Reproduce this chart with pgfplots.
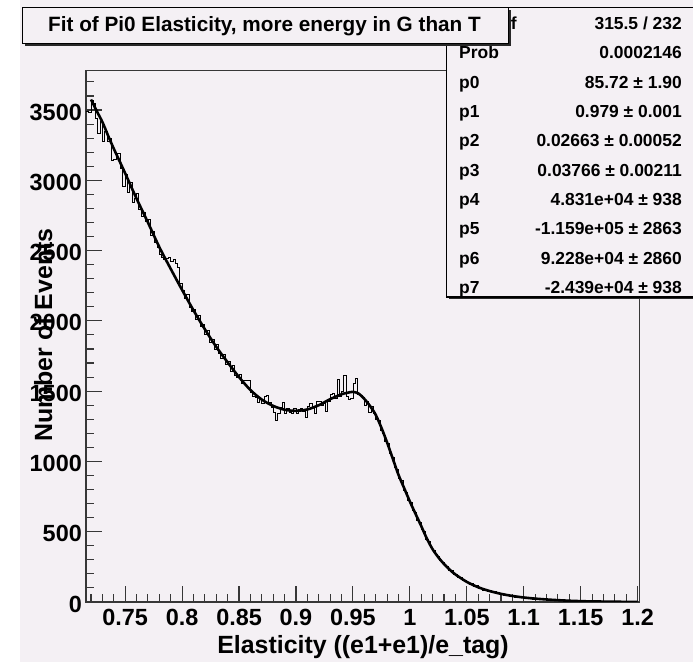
\documentclass[border=0pt]{standalone}
\usepackage{pgfplots}
\pgfplotsset{compat=1.18}
\usepackage{fontspec}
\setmainfont{Liberation Sans}
\definecolor{bg}{RGB}{244,240,244}
\definecolor{fr}{RGB}{55,55,55}
\definecolor{shd}{RGB}{40,40,40}
\pgfplotstableread{
x y
0.716 3488
0.718 3482
0.720 3570
0.722 3545
0.724 3440
0.726 3335
0.728 3420
0.730 3280
0.732 3350
0.734 3275
0.736 3300
0.738 3145
0.740 3150
0.742 3195
0.744 3190
0.746 3085
0.748 2955
0.750 3040
0.752 2915
0.754 2985
0.756 2840
0.758 2870
0.760 2905
0.762 2790
0.764 2745
0.766 2770
0.768 2705
0.770 2720
0.772 2610
0.774 2640
0.776 2555
0.778 2520
0.780 2470
0.782 2455
0.784 2440
0.786 2445
0.788 2450
0.790 2420
0.792 2440
0.794 2410
0.796 2380
0.798 2270
0.800 2215
0.802 2160
0.804 2185
0.806 2095
0.808 2070
0.810 2080
0.812 2010
0.814 2040
0.816 1960
0.818 1975
0.820 1905
0.822 1930
0.824 1850
0.826 1870
0.828 1800
0.830 1830
0.832 1770
0.834 1735
0.836 1765
0.838 1690
0.840 1710
0.842 1640
0.844 1680
0.846 1615
0.848 1595
0.850 1620
0.852 1555
0.854 1575
0.856 1580
0.858 1575
0.860 1490
0.862 1465
0.864 1455
0.866 1420
0.868 1440
0.870 1415
0.872 1460
0.874 1470
0.876 1420
0.878 1385
0.880 1350
0.882 1295
0.884 1340
0.886 1385
0.888 1420
0.890 1345
0.892 1380
0.894 1350
0.896 1340
0.898 1375
0.900 1345
0.902 1370
0.904 1380
0.906 1355
0.908 1310
0.910 1390
0.912 1412
0.914 1395
0.916 1345
0.918 1425
0.920 1428
0.922 1400
0.924 1415
0.926 1355
0.928 1430
0.930 1480
0.932 1485
0.934 1450
0.936 1586
0.938 1465
0.940 1500
0.942 1614
0.944 1460
0.946 1440
0.948 1450
0.950 1555
0.952 1593
0.954 1480
0.956 1470
0.958 1455
0.960 1400
0.962 1430
0.964 1350
0.966 1395
0.968 1345
0.970 1300
0.972 1290
0.974 1220
0.976 1200
0.978 1140
0.980 1125
0.982 1060
0.984 1030
0.986 955
0.988 940
0.990 880
0.992 865
0.994 795
0.996 780
0.998 720
1.000 710
1.002 650
1.004 640
1.006 580
1.008 565
1.010 515
1.012 500
1.014 445
1.016 430
1.018 385
1.020 368
1.022 338
1.024 325
1.026 295
1.028 285
1.030 258
1.032 250
1.034 228
1.036 222
1.038 198
1.040 198
1.042 175
1.044 175
1.046 152
1.048 155
1.050 140
1.052 125
1.054 130
1.056 112
1.058 115
1.060 98
1.062 100
1.064 85
1.066 92
1.068 78
1.070 80
1.072 68
1.074 72
1.076 58
1.078 62
1.080 55
1.082 50
1.084 54
1.086 45
1.088 42
1.090 45
1.092 36
1.094 40
1.096 33
1.098 30
1.100 33
1.102 27
1.104 26
1.106 29
1.108 22
1.110 24
1.112 19
1.114 22
1.116 17
1.118 18
1.120 16
1.122 18
1.124 13
1.126 15
1.128 12
1.130 11
1.132 13
1.134 10
1.136 8
1.138 9
1.140 7
1.142 8
1.144 6
1.146 5
1.148 7
1.150 5
1.152 4
1.154 6
1.156 3
1.158 4
1.160 3
1.162 4
1.164 2
1.166 3
1.168 3
1.170 2
1.172 3
1.174 2
1.176 1
1.178 2
1.180 2
1.182 1
1.184 1
1.186 2
1.188 1
1.190 1
1.192 0
1.194 1
1.196 1
1.198 0
1.200 0
}\histdata
\pgfplotstableread{
x y
0.720 3575
0.725 3493
0.730 3415
0.735 3318
0.740 3225
0.745 3138
0.750 3050
0.760 2870
0.770 2700
0.780 2525
0.790 2370
0.800 2220
0.810 2075
0.820 1940
0.830 1815
0.840 1705
0.850 1600
0.860 1508
0.870 1440
0.880 1395
0.890 1368
0.900 1360
0.910 1370
0.920 1400
0.930 1443
0.940 1478
0.945 1488
0.950 1495
0.955 1483
0.960 1445
0.965 1395
0.970 1332
0.975 1240
0.980 1135
0.985 1020
0.990 905
0.995 810
1.000 715
1.005 627
1.010 540
1.015 450
1.020 375
1.025 318
1.030 270
1.035 230
1.040 196
1.050 143
1.060 105
1.070 78
1.080 58
1.090 43
1.100 32
1.110 24
1.120 18
1.130 13
1.140 9
1.150 6
1.160 4
1.170 3
1.180 2
1.190 1
1.200 0.5
}\fitdata
\begin{document}
\begin{tikzpicture}[x=1bp,y=1bp]
\clip (0,0) rectangle (693,662);
\fill[white] (0,0) rectangle (693,662);
\fill[bg] (20,0) rectangle (693,662);
\begin{axis}[
  at={(86bp,60bp)}, anchor=south west, scale only axis,
  width=553.3bp, height=531.3bp,
  xmin=0.7156, xmax=1.2015, ymin=0, ymax=3780,
  axis background/.style={fill=bg},
  axis line style={fr, line width=1.1bp},
  xtick={0.75,0.8,0.85,0.9,0.95,1,1.05,1.1,1.15,1.2},
  xticklabels={0.75,0.8,0.85,0.9,0.95,1,1.05,1.1,1.15,1.2},
  minor xtick={0.72,0.73,0.74,0.76,0.77,0.78,0.79,0.81,0.82,0.83,0.84,0.86,0.87,0.88,0.89,0.91,0.92,0.93,0.94,0.96,0.97,0.98,0.99,1.01,1.02,1.03,1.04,1.06,1.07,1.08,1.09,1.11,1.12,1.13,1.14,1.16,1.17,1.18,1.19},
  ytick={0,500,1000,1500,2000,2500,3000,3500},
  yticklabels={0,500,1000,1500,2000,2500,3000,3500},
  minor ytick={100,200,300,400,600,700,800,900,1100,1200,1300,1400,1600,1700,1800,1900,2100,2200,2300,2400,2600,2700,2800,2900,3100,3200,3300,3400,3600,3700},
  scaled ticks=false,
  xtick pos=bottom, ytick pos=left,
  tick align=inside,
  major tick length=16bp, minor tick length=8bp,
  every tick/.style={fr, line width=1.1bp},
  ticklabel style={font=\fontsize{23.5}{24}\selectfont\bfseries, inner sep=0pt},
  xticklabel style={anchor=north, yshift=-7bp},
  yticklabel style={anchor=east, xshift=-4bp, yshift=-2bp},
]
\addplot[const plot mark left, black, line width=0.8bp, mark=none] table[x=x,y=y] {\histdata};
\addplot[black, line width=2.6bp, mark=none, smooth] table[x=x,y=y] {\fitdata};
\end{axis}
% axis titles
\node[font=\fontsize{25}{26}\selectfont\bfseries, anchor=base, inner sep=0pt] at (363,8) {Elasticity ((e1+e1)/e\_tag)};
\node[font=\fontsize{25}{26}\selectfont\bfseries, anchor=base, inner sep=0pt, rotate=90] at (52,327) {Number of Events};
% stats box
\fill[shd] (449.2,362.5) rectangle (700,652.2);
\filldraw[fill=bg, draw=black, line width=1.1bp] (446.7,365) rectangle (700,654.7);
\begin{scope}[every node/.style={font=\fontsize{17.5}{18}\selectfont\bfseries, inner sep=0pt}]
\node[anchor=base west] at (459,632.3) {χ² / ndf};
\node[anchor=base east] at (682,632.3) {315.5 / 232};
\node[anchor=base west] at (459,603.0) {Prob};
\node[anchor=base east] at (682,603.0) {0.0002146};
\node[anchor=base west] at (459,573.7) {p0};
\node[anchor=base east] at (682,573.7) {85.72 ± 1.90};
\node[anchor=base west] at (459,544.4) {p1};
\node[anchor=base east] at (682,544.4) {0.979 ± 0.001};
\node[anchor=base west] at (459,515.1) {p2};
\node[anchor=base east] at (682,515.1) {0.02663 ± 0.00052};
\node[anchor=base west] at (459,485.8) {p3};
\node[anchor=base east] at (682,485.8) {0.03766 ± 0.00211};
\node[anchor=base west] at (459,456.5) {p4};
\node[anchor=base east] at (682,456.5) {4.831e+04 ± 938};
\node[anchor=base west] at (459,427.2) {p5};
\node[anchor=base east] at (682,427.2) {-1.159e+05 ± 2863};
\node[anchor=base west] at (459,397.9) {p6};
\node[anchor=base east] at (682,397.9) {9.228e+04 ± 2860};
\node[anchor=base west] at (459,368.6) {p7};
\node[anchor=base east] at (682,368.6) {-2.439e+04 ± 938};
\end{scope}
% title box
\fill[shd] (25.2,616.3) rectangle (511.2,652.2);
\filldraw[fill=bg, draw=black, line width=1.1bp] (22.7,618.7) rectangle (508.7,654.7);
\node[font=\fontsize{20.8}{22}\selectfont\bfseries, anchor=base, inner sep=0pt] at (264.5,630.3) {Fit of Pi0 Elasticity, more energy in G than T};
\end{tikzpicture}
\end{document}
